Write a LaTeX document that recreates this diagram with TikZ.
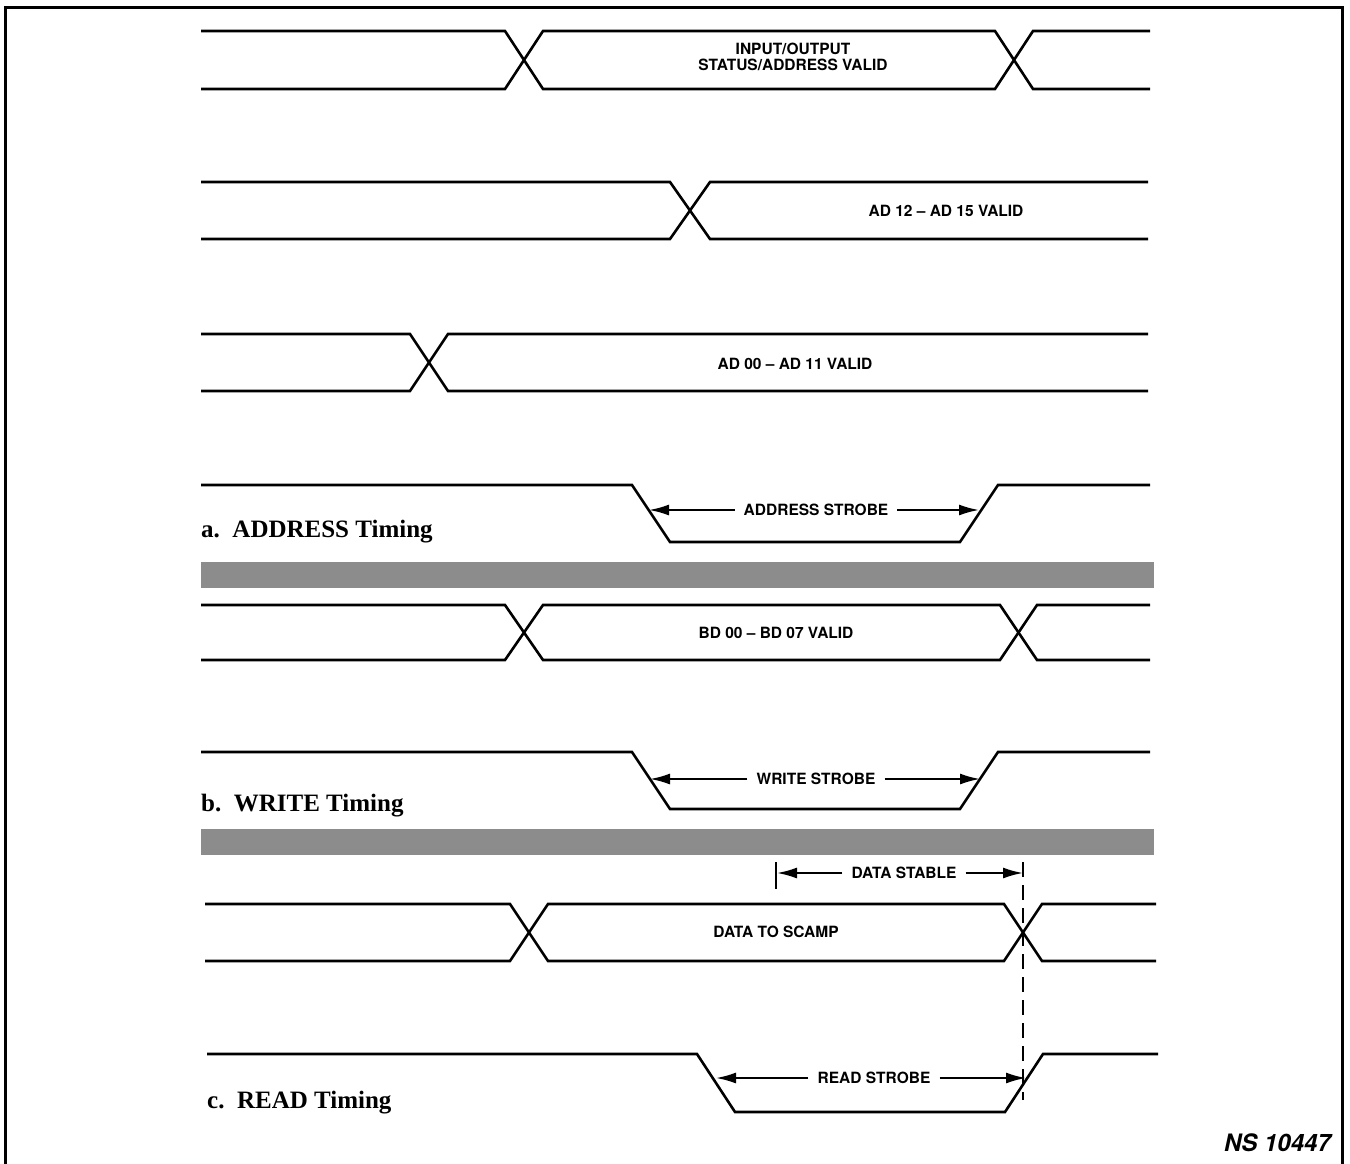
\documentclass[tikz,border=0pt]{standalone}
\usepackage{fontspec}
\setmainfont{Liberation Serif}
\newfontfamily\lblfont{TeX Gyre Heros}
\usetikzlibrary{arrows.meta}
\begin{document}
\begin{tikzpicture}[x=1pt,y=-1pt,
  sig/.style={line width=2.6pt, line join=miter},
  lbl/.style={font=\lblfont\bfseries\fontsize{15.5}{18}\selectfont, inner sep=1pt},
  ttl/.style={font=\bfseries\fontsize{25}{28}\selectfont, anchor=west, inner sep=0pt},
  dim/.style={line width=2pt, -{Latex[length=20pt,width=11pt]}},
  bar/.style={fill=black!45, draw=none}]
\useasboundingbox (0,0) rectangle (1350,1164);
% frame
\draw[line width=3pt] (5,1166) -- (5,8) -- (1342,8) -- (1342,1166);
% row 1
\draw[sig] (201,31) -- (505,31) -- (543,89) -- (995,89) -- (1033,31) -- (1150,31);
\draw[sig] (201,89) -- (505,89) -- (543,31) -- (995,31) -- (1033,89) -- (1150,89);
\node[lbl, align=center] (io) at (793,57) {INPUT/OUTPUT\\[-2pt]STATUS/ADDRESS VALID};
% row 2
\draw[sig] (201,182) -- (670,182) -- (710,239) -- (1148,239);
\draw[sig] (201,239) -- (670,239) -- (710,182) -- (1148,182);
\node[lbl] (ad12) at (946,211) {AD 12 – AD 15 VALID};
% row 3
\draw[sig] (201,334) -- (410,334) -- (448,391) -- (1148,391);
\draw[sig] (201,391) -- (410,391) -- (448,334) -- (1148,334);
\node[lbl] (ad00) at (795,364) {AD 00 – AD 11 VALID};
% row 4 address strobe
\draw[sig] (201,485) -- (632,485) -- (670,542) -- (960,542) -- (998,485) -- (1150,485);
\node[lbl] (as) at (816,510) {ADDRESS STROBE};
\coordinate (asl) at (649,510);
\coordinate (asr) at (979,510);
\draw[dim] ([xshift=-8pt]as.west) -- (asl);
\draw[dim] ([xshift=8pt]as.east) -- (asr);
\node[ttl] (ta) at (201,532) {a.\enspace ADDRESS Timing};
% bar 1
\path[bar] (201,562) rectangle (1154,588);
% row 5
\draw[sig] (201,605) -- (505,605) -- (543,660) -- (1000,660) -- (1037,605) -- (1150,605);
\draw[sig] (201,660) -- (505,660) -- (543,605) -- (1000,605) -- (1037,660) -- (1150,660);
\node[lbl] (bd) at (776,633) {BD 00 – BD 07 VALID};
% row 6 write strobe
\draw[sig] (201,752) -- (632,752) -- (670,809) -- (960,809) -- (998,752) -- (1150,752);
\node[lbl] (ws) at (816,779) {WRITE STROBE};
\coordinate (wsl) at (650,779);
\coordinate (wsr) at (980,779);
\draw[dim] ([xshift=-8pt]ws.west) -- (wsl);
\draw[dim] ([xshift=8pt]ws.east) -- (wsr);
\node[ttl] (tb) at (201,806) {b.\enspace WRITE Timing};
% bar 2
\path[bar] (201,829) rectangle (1154,855);
% data stable
\draw[line width=2pt] (776,862) -- (776,889);
\node[lbl] (dst) at (904,873) {DATA STABLE};
\coordinate (dsl) at (777,873);
\coordinate (dsr) at (1023,873);
\draw[dim] ([xshift=-8pt]dst.west) -- (dsl);
\draw[dim] ([xshift=8pt]dst.east) -- (dsr);
\draw[line width=2pt, dash pattern=on 15pt off 8pt] (1023,862) -- (1023,1100);
% row 7
\draw[sig] (205,904) -- (510,904) -- (548,961) -- (1004,961) -- (1042,904) -- (1156,904);
\draw[sig] (205,961) -- (510,961) -- (548,904) -- (1004,904) -- (1042,961) -- (1156,961);
\node[lbl] (dts) at (776,932) {DATA TO SCAMP};
% row 8 read strobe
\draw[sig] (207,1054) -- (697,1054) -- (735,1112) -- (1005,1112) -- (1043,1054) -- (1158,1054);
\node[lbl] (rs) at (874,1078) {READ STROBE};
\coordinate (rsl) at (716,1078);
\coordinate (rsr) at (1026,1078);
\draw[dim] ([xshift=-8pt]rs.west) -- (rsl);
\draw[dim] ([xshift=8pt]rs.east) -- (rsr);
\node[ttl] (tc) at (207,1103) {c.\enspace READ Timing};
% figure number
\node[font=\lblfont\bfseries\itshape\fontsize{24}{26}\selectfont, anchor=east, inner sep=0pt] (ns) at (1331,1143) {NS 10447};
\end{tikzpicture}
\end{document}
